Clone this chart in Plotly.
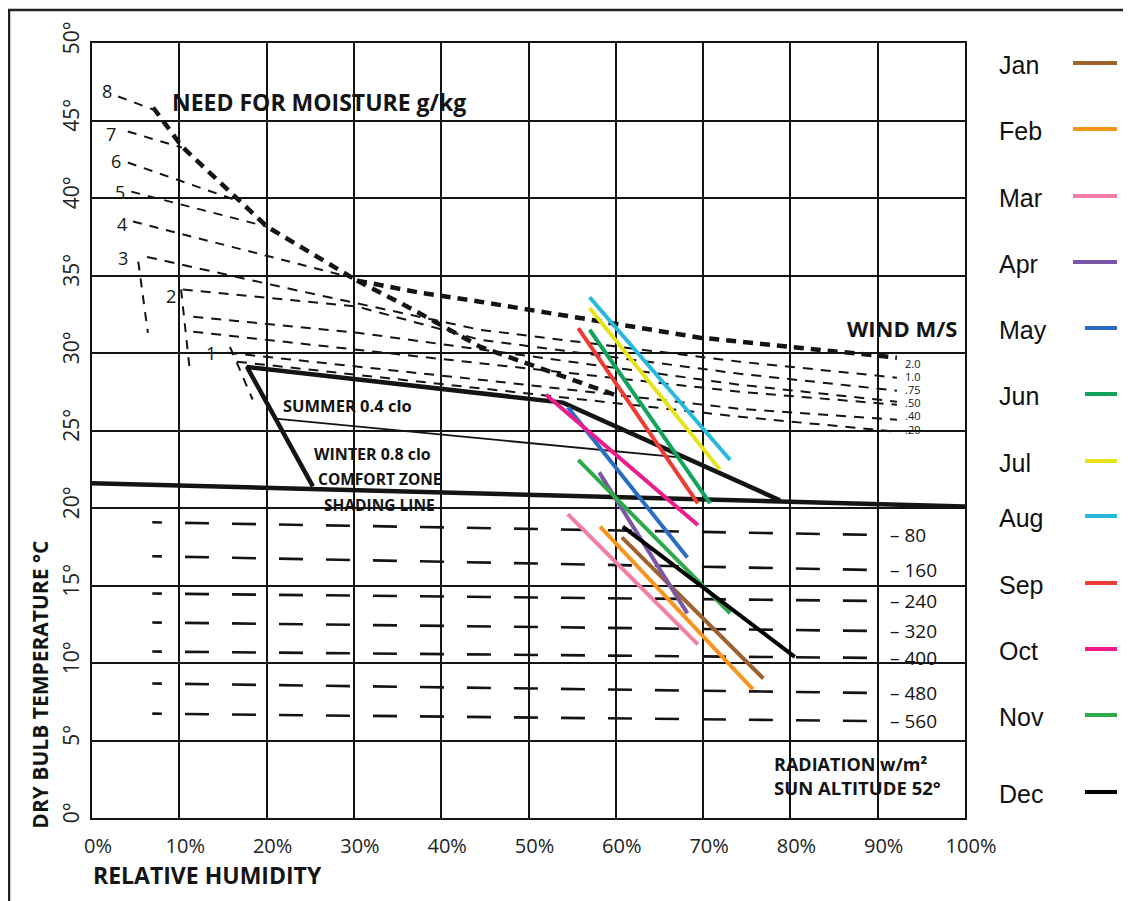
import plotly.graph_objects as go

# ---------------- data ----------------
x_ticks = list(range(0, 101, 10))
x_tick_text = [f"{v}%" for v in x_ticks]
y_ticks = list(range(0, 51, 5))
y_tick_text = [f"{v}°" for v in y_ticks]

months = ["Jan", "Feb", "Mar", "Apr", "May", "Jun", "Jul", "Aug", "Sep", "Oct", "Nov", "Dec"]
month_colors = ["#A0622D", "#F7941D", "#F27FA2", "#7C55A5", "#2B6CC4", "#13A45B",
                "#E8E21A", "#27B9DD", "#EE3B33", "#EC1C8C", "#2DAA4A", "#000000"]
month_rh_start = [60.7, 58.2, 54.5, 58.1, 54.5, 57.0, 57.0, 57.0, 55.7, 52.0, 55.7, 60.8]
month_t_start = [18.1, 18.8, 19.6, 22.3, 26.5, 31.5, 32.9, 33.6, 31.6, 27.3, 23.1, 18.8]
month_rh_end = [76.9, 75.7, 69.4, 68.2, 68.2, 70.8, 71.9, 73.1, 69.4, 69.4, 73.1, 80.5]
month_t_end = [9.0, 8.3, 11.2, 13.2, 16.8, 20.3, 22.5, 23.1, 20.3, 18.9, 13.2, 10.4]

# comfort zone outline (RH %, temp °C)
comfort_rh = [25.3, 17.75, 53.95, 78.8]
comfort_t = [21.4, 29.1, 26.8, 20.5]
winter_rh = [21.0, 68.5]
winter_t = [25.76, 23.2]
shading_rh = [0, 100]
shading_t = [21.6, 20.1]

# moisture lines g/kg (thin dashed)
moist_rh = [[3.0, 7.0], [4.1, 10.3], [4.1, 16.95], [4.5, 20.05], [4.7, 29.8]]
moist_t = [[46.55, 45.71], [44.29, 43.25], [42.29, 39.77], [40.41, 38.15], [38.48, 34.86]]
moist_label_rh = [1.7, 2.2, 2.8, 3.2, 3.4, 3.6, 9.0, 13.6]
moist_label_t = [46.9, 44.1, 42.4, 40.4, 38.3, 36.1, 33.7, 30.0]
moist_all_labels = ["8", "7", "6", "5", "4", "3", "2", "1"]

# steep tails of moisture lines 3, 2, 1
tail_rh = [[5.3, 6.4], [10.2, 11.2], [15.8, 18.4]]
tail_t = [[35.9, 31.3], [34.1, 28.9], [30.4, 27.0]]

# heavy dashed envelope and branches
env_rh = [7.0, 10.3, 20.05, 30.36]
env_t = [45.84, 43.32, 38.15, 34.67]
wind20_rh = [30.36, 37.57, 44.44, 57.04, 69.64, 92.2]
wind20_t = [34.67, 33.89, 33.31, 32.15, 30.99, 29.70]
steep_rh = [30.36, 36.77, 44.44, 60.48]
steep_t = [34.67, 32.80, 30.41, 27.18]

# thin wind lines (m/s)
wind_rh = [[6.3, 23.0, 44.4, 74.2, 92.2],
           [10.4, 30.4, 44.4, 74.2, 92.2],
           [11.6, 30.4, 74.2, 92.2],
           [11.6, 30.4, 74.2, 92.2],
           [15.5, 30.4, 44.4, 74.2, 92.2],
           [16.6, 74.2, 92.2]]
wind_t = [[36.2, 34.1, 31.5, 29.44, 28.41],
          [34.1, 32.99, 30.86, 28.66, 27.57],
          [32.34, 31.31, 27.95, 26.86],
          [31.37, 30.21, 27.50, 26.66],
          [30.02, 29.12, 28.28, 26.40, 25.69],
          [29.44, 25.89, 24.92]]
wind_label_list = ["2.0", "1.0", ".75", ".50", ".40", ".20"]
wind_label_t = [29.35, 28.5, 27.65, 26.8, 25.95, 25.05]

# radiation lines (W/m²)
rad_labels = [80, 160, 240, 320, 400, 480, 560]
rad_t_start = [19.04, 16.85, 14.46, 12.59, 10.72, 8.65, 6.71]
rad_t_end = [18.27, 16.01, 14.01, 12.07, 10.33, 8.07, 6.26]
rad_rh_start = 10.65
rad_rh_end = 88.9
rad_tick_rh = [6.9, 8.0]

# ---------------- figure ----------------
fig = go.Figure()
FONT = "Open Sans"
INK = "#141414"

def line(xs, ys, color=INK, width=2, dash="solid"):
    fig.add_trace(go.Scatter(x=xs, y=ys, mode="lines", showlegend=False,
                             hoverinfo="skip", line=dict(color=color, width=width, dash=dash)))

# radiation lines
for lab, t0, t1 in zip(rad_labels, rad_t_start, rad_t_end):
    slope = (t1 - t0) / (rad_rh_end - rad_rh_start)
    line([rad_rh_start, rad_rh_end], [t0, t1], width=2.6, dash="24px,23px")
    line(rad_tick_rh, [t0 + slope * (r - rad_rh_start) for r in rad_tick_rh], width=2.6)

# moisture lines
for xs, ys in zip(moist_rh, moist_t):
    line(xs, ys, width=2, dash="9px,8px")
for xs, ys in zip(tail_rh, tail_t):
    line(xs, ys, width=2, dash="9px,8px")
for xs, ys in zip(wind_rh, wind_t):
    line(xs, ys, width=2, dash="10px,8px")
# heavy dashed
line(env_rh, env_t, width=4.5, dash="10px,7px")
line(wind20_rh, wind20_t, width=4.5, dash="10px,7px")
line(steep_rh, steep_t, width=4.5, dash="10px,7px")

# comfort zone, winter line, shading line
line(shading_rh, shading_t, width=4.5)
line(comfort_rh, comfort_t, width=4.5)
line(winter_rh, winter_t, width=1.8)

# monthly lines
for m, c, x0, y0, x1, y1 in zip(months, month_colors, month_rh_start, month_t_start,
                                month_rh_end, month_t_end):
    line([x0, x1], [y0, y1], color=c, width=4)

ann = []
def text(x, y, s, size=16, bold=False, xanchor="center", xref="x", yref="y", angle=0, fam=FONT):
    ann.append(dict(x=x, y=y, xref=xref, yref=yref, text=f"<b>{s}</b>" if bold else s,
                    showarrow=False, xanchor=xanchor, yanchor="middle", textangle=angle,
                    borderpad=0, font=dict(family=fam, size=size, color=INK)))

for s, x, y in zip(moist_all_labels, moist_label_rh, moist_label_t):
    text(x, y, s, size=18)
for s, y in zip(wind_label_list, wind_label_t):
    text(93.0, y, s, size=11, xanchor="left")
for lab, t0, t1 in zip(rad_labels, rad_t_start, rad_t_end):
    slope = (t1 - t0) / (rad_rh_end - rad_rh_start)
    text(91.3, t0 + slope * (91.3 - rad_rh_start), f"– {lab}", size=19, xanchor="left")

text(9.0, 46.2, "NEED FOR MOISTURE g/kg", size=23, bold=True, xanchor="left")
text(99.2, 31.6, "WIND M/S", size=22, bold=True, xanchor="right")
text(29.3, 26.6, "SUMMER 0.4 clo", size=16.5, bold=True)
text(32.1, 23.5, "WINTER 0.8 clo", size=16, bold=True)
text(33.0, 21.9, "COMFORT ZONE", size=15.5, bold=True)
text(32.9, 20.2, "SHADING LINE", size=15.5, bold=True)
text(78.0, 3.49, "RADIATION w/m²", size=18, bold=True, xanchor="left")
text(78.0, 2.0, "SUN ALTITUDE 52°", size=18.5, bold=True, xanchor="left")
text(0.0, -0.074, "RELATIVE HUMIDITY", size=23, bold=True, xanchor="left", xref="paper", yref="paper")
text(-0.060, 0.1716, "DRY BULB TEMPERATURE °C", size=21, bold=True, xref="paper", yref="paper", angle=-90)

# custom legend on the right
legend_y_px = [63, 129, 196, 262, 328, 394, 461, 516, 583, 649, 715, 792]
shapes = []
for i, (m, c, py) in enumerate(zip(months, month_colors, legend_y_px)):
    yp = (818 - py) / 775
    ann.append(dict(x=(998 - 92) / 873, y=yp - 0.003, xref="paper", yref="paper", text=m, showarrow=False,
                    xanchor="left", yanchor="middle", borderpad=0,
                    font=dict(family="Liberation Sans", size=25, color="#111")))
    x0 = 1073 if i < 4 else 1085
    shapes.append(dict(type="line", xref="paper", yref="paper", x0=(x0 - 92) / 873, x1=(1117 - 92) / 873,
                       y0=yp, y1=yp, line=dict(color=c, width=4)))

# outer frame
shapes.append(dict(type="rect", xref="paper", yref="paper", x0=(9 - 92) / 873, x1=(1140 - 92) / 873,
                   y0=(818 - 910) / 775, y1=(818 - 10) / 775, line=dict(color="#222", width=2.5)))

# the page body has an 8px margin: the figure is 8px smaller and margins reduced by 8
fig.update_layout(
    width=1123, height=893,
    margin=dict(l=84, r=166, t=35, b=83, pad=0),
    paper_bgcolor="white", plot_bgcolor="white",
    showlegend=False,
    annotations=ann, shapes=shapes,
    xaxis=dict(range=[0, 100], tickvals=x_ticks, ticktext=x_tick_text, showgrid=True,
               gridcolor=INK, gridwidth=2, zeroline=False, showline=True, mirror=True,
               linecolor=INK, linewidth=2, ticks="", ticklabelshift=6, ticklabelstandoff=9,
               tickfont=dict(family=FONT, size=20, color="#222"), fixedrange=True),
    yaxis=dict(range=[0, 50], tickvals=y_ticks, ticktext=y_tick_text, showgrid=True,
               gridcolor=INK, gridwidth=2, zeroline=False, showline=True, mirror=True,
               linecolor=INK, linewidth=2, ticks="", tickangle=-90, ticklabelshift=-2,
               ticklabelstandoff=3,
               tickfont=dict(family=FONT, size=21, color="#222"), fixedrange=True),
)

fig.write_html("out.html")
